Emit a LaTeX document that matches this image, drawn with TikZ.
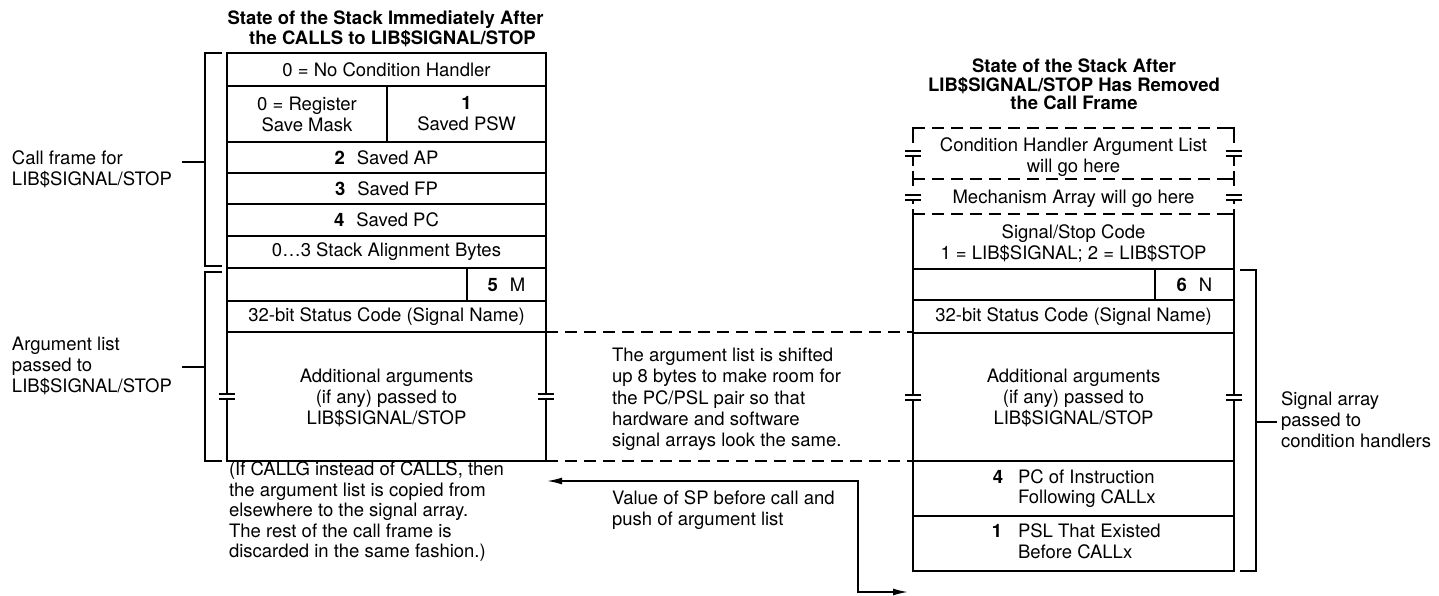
\documentclass[tikz,border=0pt]{standalone}
\usepackage{fontspec}
\setmainfont{TeX Gyre Heros}
\usetikzlibrary{arrows.meta}
\newcommand\brkmark[2]{%
  \draw[ln] ({#1-8},{#2}) -- ({#1+8},{#2});
  \draw[ln] ({#1-8},{#2+5}) -- ({#1+8},{#2+5});}
\begin{document}
\begin{tikzpicture}[x=1pt,y=-1pt,
  every node/.style={inner sep=0pt,outer sep=0pt,font=\fontsize{18.5}{21}\selectfont},
  cell/.style={draw,line width=1.8pt},
  ln/.style={line width=1.8pt},
  dsh/.style={line width=1.8pt,dash pattern=on 12pt off 7pt},
  thinln/.style={line width=1.3pt},
  ttl/.style={font=\fontsize{18.5}{20}\selectfont\bfseries,anchor=base},
  multi/.style={align=center},
  lab/.style={align=left,anchor=west},
  arr/.style={line width=1.6pt,{Latex[length=15pt,width=7pt]}-{Latex[length=15pt,width=7pt]}}
]
\useasboundingbox (0,0) rectangle (1439,596);

% ---------------- left stack ----------------
\node[ttl] (LT1) at (385.5,25) {State of the Stack Immediately After};
\node[ttl] (LT2) at (392.5,45) {the CALLS to LIB\$SIGNAL/STOP};

\node[cell,minimum width=319pt,minimum height=33pt] (L1) at (386.5,69.5) {0 = No Condition Handler};
\node[cell,multi,minimum width=160pt,minimum height=56pt] (L2a) at (307,114) {0 = Register\\Save Mask};
\node[cell,multi,minimum width=159pt,minimum height=56pt] (L2b) at (466.5,114) {\textbf{1}\\Saved PSW};
\node[cell,minimum width=319pt,minimum height=31pt] (L3) at (386.5,157.5) {\textbf{2}\hspace{12pt}Saved AP};
\node[cell,minimum width=319pt,minimum height=31pt] (L4) at (386.5,188.5) {\textbf{3}\hspace{12pt}Saved FP};
\node[cell,minimum width=319pt,minimum height=32pt] (L5) at (386.5,220) {\textbf{4}\hspace{12pt}Saved PC};
\node[cell,minimum width=319pt,minimum height=32pt] (L6) at (386.5,252) {0…3 Stack Alignment Bytes};
\node[cell,minimum width=240pt,minimum height=33pt] (L7a) at (347,284.5) {};
\node[cell,minimum width=79pt,minimum height=33pt] (L7b) at (506.5,284.5) {\textbf{5}\hspace{12pt}M};
\node[cell,minimum width=319pt,minimum height=31pt] (L8) at (386.5,316.5) {32-bit Status Code (Signal Name)};
\node[multi] (L9) at (386.5,397.5) {Additional arguments\\(if any) passed to\\LIB\$SIGNAL/STOP};
\draw[ln] (227,332) -- (227,394) (227,399) -- (227,461) -- (546,461) -- (546,399) (546,394) -- (546,332);
\brkmark{227}{394}
\brkmark{546}{394}

% ---------------- right stack ----------------
\node[ttl] (RT1) at (1074,73) {State of the Stack After};
\node[ttl] (RT2) at (1074,92) {LIB\$SIGNAL/STOP Has Removed};
\node[ttl] (RT3) at (1074,110) {the Call Frame};

\node[multi] (R1) at (1073.5,157) {Condition Handler Argument List\\will go here};
\node (R2) at (1073.5,198.5) {Mechanism Array will go here};
\node[multi] (R3) at (1073.5,243) {Signal/Stop Code\\1 = LIB\$SIGNAL; 2 = LIB\$STOP};
% dashed upper boxes
\draw[dsh] (913,128) -- (1234,128);
\draw[dsh] (913,179) -- (1234,179);
\draw[dsh] (913,214) -- (1234,214);
\draw[ln] (913,143) -- (913,128) -- (922,128);
\draw[ln] (1225,128) -- (1234,128) -- (1234,143);
\draw[ln] (913,179) -- (920,179) (1227,179) -- (1234,179);
\draw[ln] (913,214) -- (920,214) (1227,214) -- (1234,214);
\brkmark{913}{151}
\brkmark{1234}{151}
\draw[ln] (913,156) -- (913,166) (1234,156) -- (1234,166);
\draw[ln] (913,171) -- (913,186) (1234,171) -- (1234,186);
\brkmark{913}{195}
\brkmark{1234}{195}
\draw[ln] (913,200) -- (913,204) (1234,200) -- (1234,204);
\draw[ln] (913,209) -- (913,269) -- (1234,269) -- (1234,209);

\node[cell,minimum width=242pt,minimum height=31pt] (R4a) at (1034,284.5) {};
\node[cell,minimum width=79pt,minimum height=31pt] (R4b) at (1194.5,284.5) {\textbf{6}\hspace{12pt}N};
\node[cell,minimum width=321pt,minimum height=33pt] (R5) at (1073.5,316.5) {32-bit Status Code (Signal Name)};
\node[multi] (R6) at (1073.5,397.5) {Additional arguments\\(if any) passed to\\LIB\$SIGNAL/STOP};
\draw[ln] (913,333) -- (913,395) (913,400) -- (913,461);
\draw[ln] (1234,333) -- (1234,395) (1234,400) -- (1234,461);
\brkmark{913}{395}
\brkmark{1234}{395}
\node[cell,minimum width=321pt,minimum height=55pt] (R7) at (1073.5,488.5) {};
\node[cell,minimum width=321pt,minimum height=55pt] (R8) at (1073.5,543.5) {};
\node[anchor=base] (R7n) at (998,483) {\textbf{4}};
\node[anchor=base west] (R7t1) at (1018,483) {PC of Instruction};
\node[anchor=base west] (R7t2) at (1018,503) {Following CALLx};
\node[anchor=base] (R8n) at (997,537) {\textbf{1}};
\node[anchor=base west] (R8t1) at (1018,537) {PSL That Existed};
\node[anchor=base west] (R8t2) at (1018,558) {Before CALLx};

% ---------------- connecting dashed lines ----------------
\draw[dsh] (L8.south east) -- (L8.south east -| R5.west);
\draw[dsh] (546,461) -- (R7.north west);

% ---------------- brackets and labels ----------------
\node[lab] (LCF) at (12,169) {Call frame for\\LIB\$SIGNAL/STOP};
\node[lab] (LAL) at (12,365.5) {Argument list\\passed to\\LIB\$SIGNAL/STOP};
\node[lab] (RSA) at (1281,419.5) {Signal array\\passed to\\condition handlers};
\draw[thinln] (222,53) -- (205,53) -- (205,266) -- (222,266);
\draw[thinln] (182,162) -- (205,162);
\draw[thinln] (222,272) -- (205,272) -- (205,461) -- (222,461);
\draw[thinln] (182,367) -- (205,367);
\draw[thinln] (1240,270) -- (1256,270) -- (1256,571) -- (1240,571);
\draw[thinln] (1256,422) -- (1277,422);

% ---------------- middle notes ----------------
\node[lab,font=\fontsize{18.5}{21.3}\selectfont] (MID) at (612,399.5)
  {The argument list is shifted\\up 8 bytes to make room for\\the PC/PSL pair so that\\hardware and software\\signal arrays look the same.};
\node[lab] (VSP) at (612,510.5) {Value of SP before call and\\push of argument list};
\node[lab,font=\fontsize{18.5}{20.5}\selectfont] (CG) at (229,512)
  {(If CALLG instead of CALLS, then\\the argument list is copied from\\elsewhere to the signal array.\\The rest of the call frame is\\discarded in the same fashion.)};

% ---------------- SP arrow ----------------
\coordinate (spL) at (547,481);
\coordinate (spR) at (908,592);
\draw[arr] (spL) -- (858,481) |- (spR);
\end{tikzpicture}
\end{document}
